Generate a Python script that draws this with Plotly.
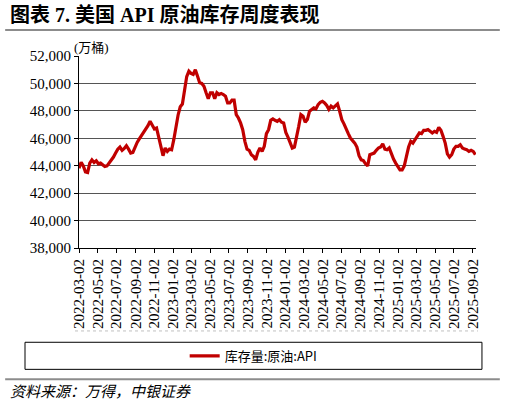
import pandas as pd
import plotly.graph_objects as go

start_date = "2022-03-02"
api_stock = [
    43820, 44240, 43990, 43550, 43500, 44190, 44430, 44240, 44360, 44140,
    44190, 44070, 43950, 43990, 44190, 44480, 44630, 44920, 45210, 45360,
    45120, 45260, 45460, 45210, 44920, 44970, 45360, 45700, 45950, 46190,
    46340, 46680, 46920, 47240, 47000, 46680, 46750, 46140, 45460, 44730,
    45290, 45040, 45210, 45160, 45900, 46900, 47700, 48300, 48500, 49500,
    50500, 50900, 50730, 50660, 51000, 50540, 50050, 50000, 49800, 49320,
    48880, 49320, 49320, 48880, 49320, 49190, 49270, 49190, 49070, 48580,
    48580, 48780, 48780, 47730, 47480, 47120, 46630, 45780, 45210, 45120,
    44800, 44680, 44430, 44970, 45290, 45040, 45410, 46340, 46630, 47310,
    47410, 47310, 47240, 47360, 47170, 47120, 46430, 46090, 45650, 45290,
    45360, 46020, 46870, 47730, 47610, 47170, 47360, 47970, 48100, 48220,
    48140, 48460, 48630, 48700, 48580, 48390, 48100, 48340, 48220, 48340,
    48510, 47970, 47360, 47050, 46630, 46340, 46020, 45850, 45650, 45360,
    44730, 44430, 44380, 44140, 43990, 44800, 44870, 44920, 45120, 45290,
    45360, 45600, 45210, 45160, 45290, 44800, 44480, 44190, 43950, 43700,
    43700, 43990, 44680, 45360, 45780, 45650, 45900, 46140, 46390, 46340,
    46580, 46580, 46630, 46510, 46390, 46510, 46430, 46800, 46580, 46140,
    45650, 44870, 44630, 44800, 45210, 45410, 45410, 45530, 45290, 45210,
    45160, 45040, 45120, 45040, 44800,
]
dates = pd.date_range(start_date, periods=len(api_stock), freq="7D")

serif = "Liberation Serif, Times New Roman, Noto Sans CJK SC, serif"
cjk = "Noto Sans CJK SC, sans-serif"

fig = go.Figure(go.Scatter(
    x=dates,
    y=api_stock,
    mode="lines",
    name="库存量:原油:API",
    line=dict(color="#C00000", width=3.2),
))

fig.update_layout(
    width=505,
    height=405,
    margin=dict(l=79, r=29, t=56, b=157),
    paper_bgcolor="white",
    plot_bgcolor="white",
    showlegend=True,
    legend=dict(
        x=0.44, y=-0.5625, xanchor="center", yanchor="middle",
        orientation="h",
        font=dict(family=cjk, size=13, color="black"),
        bgcolor="rgba(0,0,0,0)",
    ),
)

fig.update_xaxes(
    type="date",
    range=["2022-03-02", "2025-09-12"],
    tick0="2022-03-02",
    dtick="M2",
    tickformat="%Y-%m-%d",
    tickangle=-90,
    tickfont=dict(family=serif, size=15, color="black"),
    showline=True, linecolor="black", linewidth=1,
    ticks="outside", ticklen=4, tickcolor="black",
    showgrid=False,
)

fig.update_yaxes(
    range=[38000, 52000],
    dtick=2000,
    tickformat=",d",
    tickfont=dict(family=serif, size=15, color="black"),
    showline=True, linecolor="black", linewidth=1,
    ticks="outside", ticklen=4, tickcolor="black",
    showgrid=True, gridcolor="#555555", gridwidth=1,
    zeroline=False,
)

shapes = [
    # grey rule under the title
    dict(type="line", xref="paper", yref="paper", x0=-0.186, x1=1.06, y0=1.135, y1=1.135,
         line=dict(color="#8c8c8c", width=2)),
    # dotted line above legend
    dict(type="line", xref="paper", yref="paper", x0=-0.01, x1=1.005, y0=-0.432, y1=-0.432,
         line=dict(color="#c0c0c0", width=1, dash="dot")),
    # legend box
    dict(type="rect", xref="paper", yref="paper", x0=-0.136, x1=1.015, y0=-0.632, y1=-0.491,
         line=dict(color="black", width=1)),
    # grey rule above source
    dict(type="line", xref="paper", yref="paper", x0=-0.186, x1=1.06, y0=-0.684, y1=-0.684,
         line=dict(color="#8c8c8c", width=2)),
]
fig.update_layout(shapes=shapes)

fig.add_annotation(
    text="<b>图表 7. 美国 API 原油库存周度表现</b>",
    xref="paper", yref="paper", x=-0.179, y=1.214,
    xanchor="left", yanchor="middle", showarrow=False,
    font=dict(family=serif, size=20, color="black"),
)
fig.add_annotation(
    text="(万桶)",
    xref="paper", yref="paper", x=-0.018, y=1.042,
    xanchor="left", yanchor="middle", showarrow=False,
    font=dict(family=serif, size=13, color="black"),
)
fig.add_annotation(
    text="<i>资料来源：万得，中银证券</i>",
    xref="paper", yref="paper", x=-0.179, y=-0.744,
    xanchor="left", yanchor="middle", showarrow=False,
    font=dict(family=cjk, size=15, color="black"),
)

# page body has a default 8px margin; drop it so the figure sits at 0,0
fig.write_html("out.html", config={"displayModeBar": False},
               post_script="document.body.style.margin='0';")
